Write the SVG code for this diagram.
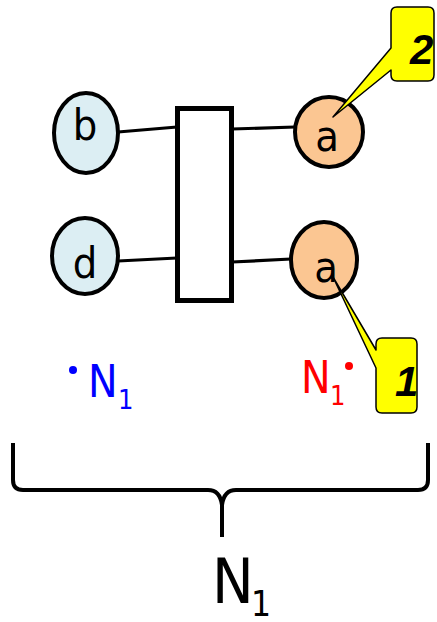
<svg xmlns="http://www.w3.org/2000/svg" width="437" height="622" viewBox="0 0 437 622">
<style>
.lbl{font-family:"DejaVu Sans Condensed","DejaVu Sans","Liberation Sans",sans-serif;font-stretch:condensed;}
.nb{fill:#DCEEF3;stroke:#000;stroke-width:4;}
.na{fill:#FBC692;stroke:#000;stroke-width:4;}
.t{font-size:43px;text-anchor:middle;fill:#000;}
.conn line{stroke:#000;stroke-width:3.2;}
.callout{fill:#FFFF00;stroke:#000;stroke-width:1.5;stroke-linejoin:round;}
.cnum{font-family:"Liberation Sans",Arial,sans-serif;font-weight:bold;font-style:italic;font-size:42px;fill:#000;}
.blk{fill:#000;}
</style>
<g id="connectors" class="conn">
<line x1="118" y1="132" x2="177" y2="127"/>
<line x1="118" y1="261" x2="177" y2="258"/>
<line x1="232" y1="129" x2="295" y2="127"/>
<line x1="232" y1="262" x2="291" y2="259"/>
</g>
<g id="box"><rect x="177.5" y="108.5" width="54" height="192" fill="#fff" stroke="#000" stroke-width="5"/></g>
<g id="node-b"><ellipse class="nb" cx="86" cy="133" rx="32" ry="40"/><text class="lbl t" x="85" y="140">b</text></g>
<g id="node-d"><ellipse class="nb" cx="85" cy="256" rx="33" ry="38"/><text class="lbl t" x="85" y="278">d</text></g>
<g id="node-a1"><ellipse class="na" cx="329" cy="132" rx="34" ry="35"/><text class="lbl t" x="327" y="151">a</text></g>
<g id="node-a2"><ellipse class="na" cx="324" cy="260" rx="33" ry="38"/><text class="lbl t" x="326" y="282">a</text></g>
<g id="callout-2"><path class="callout" d="M397,7 H428 Q434,7 434,13 V75 Q434,81 428,81 H397 Q391,81 391,75 V70 L333,117 L391,48 V13 Q391,7 397,7 Z"/><text class="cnum" x="410" y="64">2</text></g>
<g id="callout-1"><path class="callout" d="M382,338 H411 Q417,338 417,344 V407 Q417,413 411,413 H382 Q376,413 376,407 V368 L333,277 L376,350 V344 Q376,338 382,338 Z"/><text class="cnum" x="395" y="396">1</text></g>
<g id="label-blue" fill="#0000FF"><circle cx="73" cy="370" r="4"/><text class="lbl" x="88" y="397" font-size="44">N</text><text class="lbl" x="118" y="409" font-size="27">1</text></g>
<g id="label-red" fill="#FF0000"><circle cx="349" cy="366" r="4"/><text class="lbl" x="301" y="393" font-size="44">N</text><text class="lbl" x="330" y="405" font-size="27">1</text></g>
<g id="brace"><path d="M13,443 V480 Q13,490 23,490 H208 Q220,490 222,505 V537 M222,505 Q224,490 236,490 H418 Q428,490 428,480 V443" fill="none" stroke="#000" stroke-width="4"/></g>
<g id="label-bottom"><text class="lbl blk" x="212" y="603" font-size="62">N</text><text class="lbl blk" x="251" y="616" font-size="35">1</text></g>
</svg>
